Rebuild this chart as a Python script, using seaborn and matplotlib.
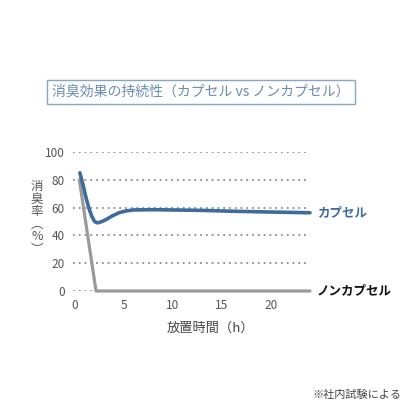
import numpy as np
import pandas as pd
import matplotlib
matplotlib.use("Agg")
import matplotlib.pyplot as plt
import seaborn as sns

# Data
capsuleHours = [0.5, 0.8, 1.1, 1.4, 1.7, 2.0, 2.3, 2.7, 3.2, 3.8, 4.5, 5.2, 6.0, 8.0, 10.0, 13.0, 16.0, 20.0, 24.0]
capsuleRate = [85, 77, 68, 60, 54, 50, 49, 49.8, 51.5, 54, 56.3, 57.6, 58.3, 58.5, 58.3, 58, 57.4, 56.8, 56.3]
nonCapsuleHours = [0.45, 2.15, 24.0]
nonCapsuleRate = [80, 0, 0]
yTicks = [0, 20, 40, 60, 80, 100]
xTicks = [0, 5, 10, 15, 20]

titleText = "消臭効果の持続性（カプセル vs ノンカプセル）"
capsuleLabel = "カプセル"
nonCapsuleLabel = "ノンカプセル"
xLabel = "放置時間（h）"
yLabel = "消\n臭\n率\n︵\n%\n︶"
noteText = "※社内試験による"

blue = "#3f6b9b"
gray = "#9a9a9a"

sns.set_theme(style="white")
plt.rcParams['font.family'] = ['Noto Sans CJK JP', 'DejaVu Sans']

fig = plt.figure(figsize=(4.16, 4.16), dpi=100)
ax = fig.add_axes([73 / 416, 1 - 291 / 416, 237 / 416, 139 / 416])

capsuleData = pd.DataFrame({"hours": capsuleHours, "rate": capsuleRate})
nonCapsuleData = pd.DataFrame({"hours": nonCapsuleHours, "rate": nonCapsuleRate})

# Grid lines
for y in yTicks:
    ax.axhline(y, color="#8c8c8c", linestyle=(0, (1, 2.2)), linewidth=1.3, zorder=0)

sns.lineplot(data=nonCapsuleData, x="hours", y="rate", color=gray, linewidth=2.3, ax=ax, clip_on=False)
sns.lineplot(data=capsuleData, x="hours", y="rate", color=blue, linewidth=2.6, ax=ax, clip_on=False)

ax.set_xlim(-0.2, 24)
ax.set_ylim(0, 100)
ax.set_xticks(xTicks)
ax.set_yticks(yTicks)
ax.tick_params(axis="both", labelsize=8.5, colors="#555555", length=0, pad=6)
for spine in ax.spines.values():
    spine.set_visible(False)
ax.set_xlabel("")
ax.set_ylabel("")

# Labels
fig.text(210 / 416, 1 - 328 / 416, xLabel, ha="center", va="center", fontsize=9.5, color="#444444")
fig.text(37 / 416, 1 - 218 / 416, yLabel, ha="center", va="center", fontsize=9, color="#555555", linespacing=0.95)
fig.text(318 / 416, 1 - 213 / 416, capsuleLabel, ha="left", va="center", fontsize=9, color=blue, fontweight="bold")
fig.text(317 / 416, 1 - 291 / 416, nonCapsuleLabel, ha="left", va="center", fontsize=9, color="#111111", fontweight="bold")
fig.text(201 / 416, 1 - 92 / 416, titleText, ha="center", va="center", fontsize=10, color="#6b8cb1",
         bbox=dict(boxstyle="square,pad=0.35", facecolor="white", edgecolor="#8aa5c2", linewidth=1.0))
fig.text(402 / 416, 1 - 395 / 416, noteText, ha="right", va="center", fontsize=8, color="#444444")

plt.savefig("out.png", dpi=100)
plt.close()
